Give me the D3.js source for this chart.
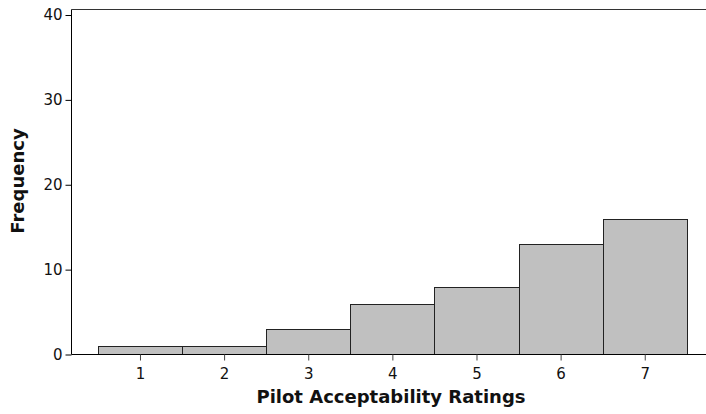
<!DOCTYPE html>
<html><head><meta charset="utf-8">
<script src="https://cdn.jsdelivr.net/npm/d3@7"></script>
<style>body{margin:0;background:#fff}svg{display:block}</style>
</head><body>
<svg id="c" width="706" height="414"></svg>
<script>
const categories = [1, 2, 3, 4, 5, 6, 7];
const frequencies = [1, 1, 3, 6, 8, 13, 16];
const yTicks = [0, 10, 20, 30, 40];
const xLabel = "Pilot Acceptability Ratings";
const yLabel = "Frequency";

(function () {
const svg = d3.select("#c");
const pLeft = 71.5, pRight = 707, pTop = 9.5, pBottom = 354.5;
const x = d3.scaleLinear().domain([0.186, 7.74]).range([pLeft, pRight]);
const y = d3.scaleLinear().domain([0, 40]).range([pBottom, 15]);
const font = "Tahoma, 'DejaVu Sans', sans-serif";

// top border
svg.append("line").attr("x1", pLeft).attr("x2", pRight).attr("y1", pTop).attr("y2", pTop)
  .attr("stroke", "#333").attr("stroke-width", 1);

// bars
svg.append("g").selectAll("rect").data(categories).join("rect")
  .attr("x", d => Math.round(x(d - 0.5)) + 0.5)
  .attr("width", d => Math.round(x(d + 0.5)) - Math.round(x(d - 0.5)))
  .attr("y", (d, i) => Math.round(y(frequencies[i])) + 0.5)
  .attr("height", (d, i) => pBottom - 0.5 - Math.round(y(frequencies[i])))
  .attr("fill", "#c0c0c0").attr("stroke", "#222").attr("stroke-width", 1);

// y axis
const ya = svg.append("g").attr("transform", `translate(${pLeft},0)`)
  .call(d3.axisLeft(y).tickValues(yTicks).tickSize(6).tickPadding(3));
ya.select(".domain").attr("d", `M0,${pTop}V${pBottom}`).attr("stroke", "#000");
ya.selectAll("text").attr("font-family", font).attr("font-size", 15).attr("fill", "#111");

// x axis
const xa = svg.append("g").attr("transform", `translate(0,${pBottom})`)
  .call(d3.axisBottom(x).tickValues(categories).tickSize(6).tickPadding(8));
xa.select(".domain").attr("d", `M${pLeft},0H${pRight}`).attr("stroke", "#000");
xa.selectAll(".tick line").attr("stroke", "#444");
xa.selectAll("text").attr("font-family", font).attr("font-size", 15).attr("fill", "#111");

svg.append("text").attr("x", 391).attr("y", 403).attr("text-anchor", "middle")
  .attr("font-family", font).attr("font-weight", "bold").attr("font-size", 18)
  .attr("fill", "#111").text(xLabel);
svg.append("text").attr("transform", "translate(24,181) rotate(-90)").attr("text-anchor", "middle")
  .attr("font-family", font).attr("font-weight", "bold").attr("font-size", 18)
  .attr("fill", "#111").text(yLabel);
})();
</script>
</body></html>
